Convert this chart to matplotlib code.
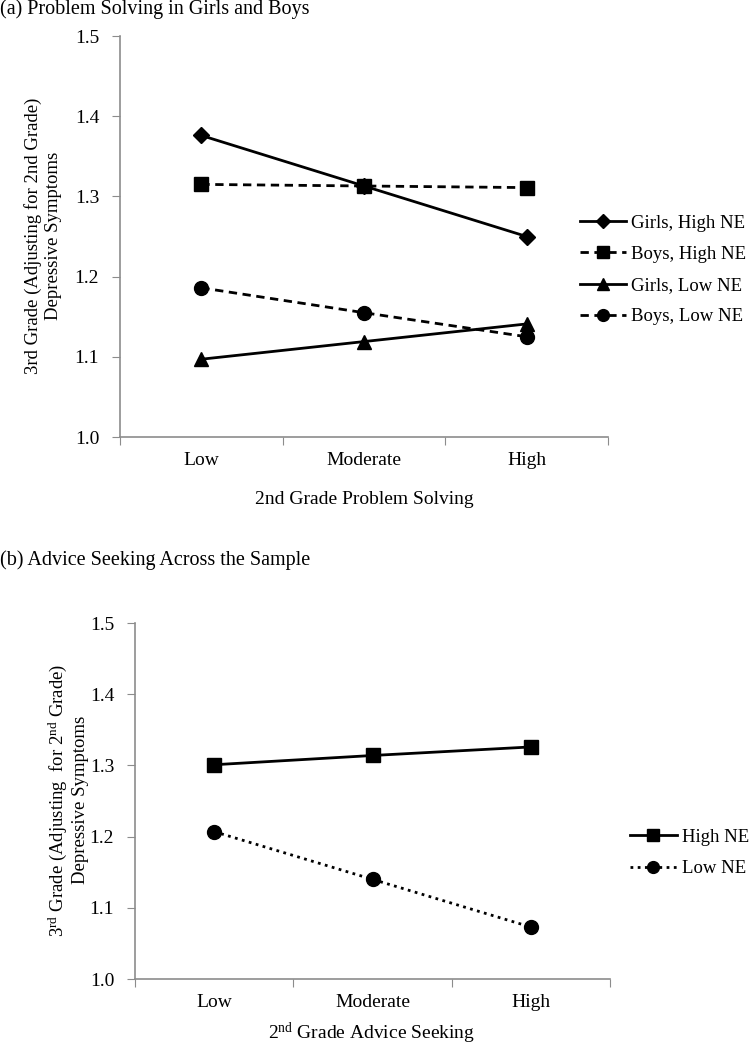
import matplotlib
matplotlib.use('Agg')
import matplotlib.pyplot as plt

plt.rcParams['font.family'] = ['Liberation Serif', 'DejaVu Serif']
plt.rcParams['mathtext.fontset'] = 'custom'
plt.rcParams['mathtext.rm'] = 'Liberation Serif'
plt.rcParams['mathtext.it'] = 'Liberation Serif'

levels = ['Low', 'Moderate', 'High']
yticks = [1.0, 1.1, 1.2, 1.3, 1.4, 1.5]

# panel (a)
girls_high_ne = [1.376, 1.313, 1.250]
boys_high_ne = [1.315, 1.313, 1.311]
girls_low_ne = [1.097, 1.119, 1.141]
boys_low_ne = [1.186, 1.155, 1.125]

# panel (b)
high_ne = [1.301, 1.314, 1.326]
low_ne = [1.207, 1.140, 1.073]

fig = plt.figure(figsize=(7.51, 10.5), dpi=100)
axa = fig.add_axes([0.1598, 0.5838, 0.6498, 0.3819])
axb = fig.add_axes([0.1798, 0.0676, 0.6325, 0.3390])

xs = [0.5, 1.5, 2.5]
lw = 2.0
dash = (0, (3, 2))

axa.plot(xs, girls_high_ne, color='black', lw=lw, marker='D', ms=8, label='Girls, High NE')
axa.plot(xs, boys_high_ne, color='black', lw=lw, ls=dash, marker='s', ms=10, label='Boys, High NE')
axa.plot(xs, girls_low_ne, color='black', lw=lw, marker='^', ms=10, label='Girls, Low NE')
axa.plot(xs, boys_low_ne, color='black', lw=lw, ls=dash, marker='o', ms=10, label='Boys, Low NE')

axb.plot(xs, high_ne, color='black', lw=lw, marker='s', ms=10, label='High NE')
axb.plot(xs, low_ne, color='black', lw=lw, ls=(0, (1, 1.6)), marker='o', ms=10, label='Low NE')

for ax in (axa, axb):
    ax.set_xlim(0, 3)
    ax.set_ylim(1.0, 1.5)
    ax.set_yticks(yticks)
    ax.set_yticklabels(['%.1f' % v for v in yticks])
    ax.set_xticks([0, 1, 2, 3])
    ax.set_xticklabels([])
    ax.set_xticks(xs, minor=True)
    ax.set_xticklabels(levels, minor=True)
    ax.tick_params(axis='x', which='minor', length=0, pad=11, labelsize=14)
    ax.tick_params(axis='x', which='major', length=6, color='#8c8c8c', direction='out')
    ax.tick_params(axis='y', length=6, color='#8c8c8c', direction='out', pad=9, labelsize=14)
    for s in ('top', 'right'):
        ax.spines[s].set_visible(False)
    for s in ('left', 'bottom'):
        ax.spines[s].set_color('#8c8c8c')
        ax.spines[s].set_linewidth(1.2)
    for ln in ax.lines:
        ln.set_clip_on(False)

axa.legend(loc='center left', bbox_to_anchor=(580 / 751, 1 - 270 / 1050),
           bbox_transform=fig.transFigure, frameon=False, fontsize=13.5,
           handlelength=2.45, handletextpad=0.25, labelspacing=0.75, borderpad=0,
           borderaxespad=0, markerscale=0.85)
axb.legend(loc='center left', bbox_to_anchor=(630 / 751, 1 - 853 / 1050),
           bbox_transform=fig.transFigure, frameon=False, fontsize=13.5,
           handlelength=2.5, handletextpad=0.25, labelspacing=0.75, borderpad=0,
           borderaxespad=0, markerscale=0.85)

fig.text(0.0, 1 - 9 / 1050, '(a) Problem Solving in Girls and Boys', fontsize=14.5, va='center', ha='left')
fig.text(0.0, 1 - 560 / 1050, '(b) Advice Seeking Across the Sample', fontsize=14.5, va='center', ha='left')

fig.text(43 / 751, 1 - 236 / 1050, '3rd Grade (Adjusting for 2nd Grade)\nDepressive Symptoms',
         rotation=90, fontsize=13.5, ha='center', va='center', multialignment='center', linespacing=1.2)
fig.text(68 / 751, 1 - 800 / 1050,
         '3$^{\\mathrm{rd}}$ Grade (Adjusting  for 2$^{\\mathrm{nd}}$ Grade)\nDepressive Symptoms',
         rotation=90, fontsize=13.5, ha='center', va='center', multialignment='center', linespacing=1.2)

fig.text(364 / 751, 1 - 500 / 1050, '2nd Grade Problem Solving', fontsize=14, ha='center', va='center')
fig.text(372 / 751, 1 - 1033 / 1050, '2$^{\\mathrm{nd}}$ Grade Advice Seeking', fontsize=14, ha='center', va='center')

fig.savefig('out.png', dpi=100)
